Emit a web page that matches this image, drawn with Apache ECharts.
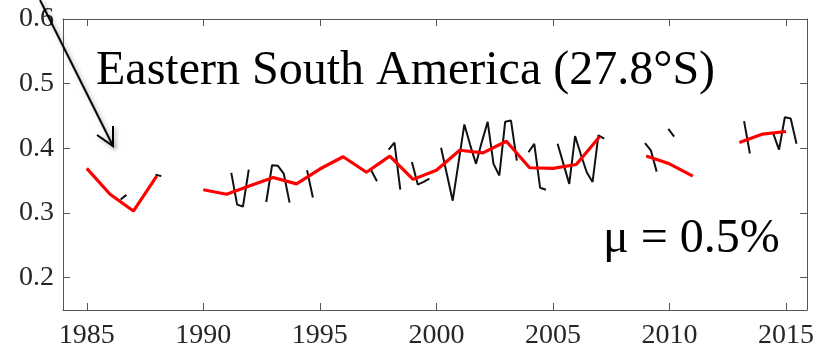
<!DOCTYPE html>
<html>
<head>
<meta charset="utf-8">
<script src="https://cdn.jsdelivr.net/npm/echarts@6/dist/echarts.min.js"></script>
<style>
html,body{margin:0;padding:0;background:#fff;}
#chart{width:820px;height:352px;}
</style>
</head>
<body>
<div id="chart"></div>
<script>
// ---- Data ----
var annualYears = [1985,1986,1987,1988,1989,1990,1991,1992,1993,1994,1995,1996,1997,1998,1999,2000,2001,2002,2003,2004,2005,2006,2007,2008,2009,2010,2011,2012,2013,2014,2015];
var annualValues = [0.369,0.329,0.303,0.357,null,0.336,0.329,0.342,0.355,0.345,0.368,0.387,0.363,0.388,0.352,0.366,0.397,0.393,0.411,0.370,0.369,0.375,0.418,null,0.388,0.376,0.357,null,0.409,0.422,0.426];

// seasonal (quarterly) values, 4 per year
var seasonalYears = annualYears;
var seasonalValues = [
  [null,null,null,null],      // 1985
  [null,0.321,0.328,null],    // 1986
  [null,null,null,0.359],     // 1987
  [0.357,null,null,null],     // 1988
  [null,null,null,null],      // 1989
  [null,null,null,null],      // 1990
  [0.362,0.313,0.310,0.367],  // 1991
  [null,null,0.317,0.374],    // 1992
  [0.373,0.361,0.316,null],   // 1993
  [null,0.366,0.324,null],    // 1994
  [null,null,null,null],      // 1995
  [null,null,null,null],      // 1996
  [0.366,0.349,null,0.398],   // 1997
  [0.409,0.336,null,0.379],   // 1998
  [0.344,0.348,0.353,null],   // 1999
  [0.401,0.360,0.319,0.378],  // 2000
  [0.437,0.405,0.376,0.410],  // 2001
  [0.441,0.376,0.358,0.441],  // 2002
  [0.443,0.381,null,0.394],   // 2003
  [0.407,0.339,0.336,null],   // 2004
  [0.407,0.376,0.345,0.419],  // 2005
  [0.390,0.363,0.348,0.420],  // 2006
  [0.415,null,null,null],     // 2007
  [null,null,null,0.408],     // 2008
  [0.397,0.364,null,0.430],   // 2009
  [0.418,null,null,null],     // 2010
  [null,null,null,null],      // 2011
  [null,null,null,null],      // 2012
  [0.442,0.392,null,null],    // 2013
  [null,0.423,0.398,0.448],   // 2014
  [0.446,0.407,null,null]     // 2015
];
var seasonOffsets = [0.2,0.45,0.7,0.95];

var xTicks = [1985,1990,1995,2000,2005,2010,2015];
var yTicks = [0.2,0.3,0.4,0.5,0.6];
var titleText = 'Eastern South America (27.8°S)';
var trendText = 'μ = 0.5%';

// ---- Build series data ----
var redData = annualYears.map(function(y,i){ return [y, annualValues[i]]; });
var blackData = [];
seasonalYears.forEach(function(y,i){
  seasonalValues[i].forEach(function(v,q){ blackData.push([y + seasonOffsets[q], v]); });
});

var FONT = '"Liberation Serif", "Times New Roman", serif';
var axisColor = '#555';
var textColor = '#262626';

function xAxisCfg(pos, showLabel){
  return {
    type:'value', position:pos, min:1983.98, max:2015.9,
    axisLine:{show:true, onZero:false, lineStyle:{color:axisColor, width:1}},
    axisTick:{show:true, inside:true, length:7, customValues:xTicks, lineStyle:{color:axisColor}},
    axisLabel:{show:showLabel, customValues:xTicks, fontSize:28, fontFamily:FONT, color:textColor, margin:12,
      formatter:function(v){return String(v);}},
    splitLine:{show:false}
  };
}
function yAxisCfg(pos, showLabel){
  return {
    type:'value', position:pos, min:0.15, max:0.6,
    axisLine:{show:true, onZero:false, lineStyle:{color:axisColor, width:1}},
    axisTick:{show:true, inside:true, length:7, customValues:yTicks, lineStyle:{color:axisColor}},
    axisLabel:{show:showLabel, customValues:yTicks, fontSize:28, fontFamily:FONT, color:textColor, margin:9,
      formatter:function(v){return v.toFixed(1);}},
    splitLine:{show:false}
  };
}

var chart = echarts.init(document.getElementById('chart'), null, {renderer:'canvas'});
chart.setOption({
  animation:false,
  backgroundColor:'#fff',
  grid:{left:63, right:13, top:19, bottom:42, containLabel:false},
  xAxis:[xAxisCfg('bottom', true), xAxisCfg('top', false)],
  yAxis:[yAxisCfg('left', true), yAxisCfg('right', false)],
  series:[
    {type:'line', data:blackData, xAxisIndex:0, yAxisIndex:0, showSymbol:false, connectNulls:false,
      lineStyle:{color:'#111', width:2}, z:2},
    {type:'line', data:redData, xAxisIndex:0, yAxisIndex:0, showSymbol:false, connectNulls:false,
      lineStyle:{color:'#ff0000', width:3.2}, z:3}
  ],
  graphic:[
    {type:'text', x:96, y:71, z:10,
      style:{text:titleText, fontSize:48, fontFamily:FONT, fill:'#000', align:'left', verticalAlign:'middle'}},
    {type:'text', x:603, y:239, z:10,
      style:{text:trendText, fontSize:48, fontFamily:FONT, fill:'#000', align:'left', verticalAlign:'middle'}},
    {type:'polyline', z:10, shape:{points:[[40,0],[113,146]]},
      style:{stroke:'#000', lineWidth:2, fill:null, shadowBlur:4, shadowColor:'rgba(0,0,0,0.35)', shadowOffsetX:2, shadowOffsetY:2}},
    {type:'polyline', z:10, shape:{points:[[97,135],[113,146],[113,126]]},
      style:{stroke:'#000', lineWidth:2, fill:null, shadowBlur:4, shadowColor:'rgba(0,0,0,0.35)', shadowOffsetX:2, shadowOffsetY:2}}
  ]
});
</script>
</body>
</html>
